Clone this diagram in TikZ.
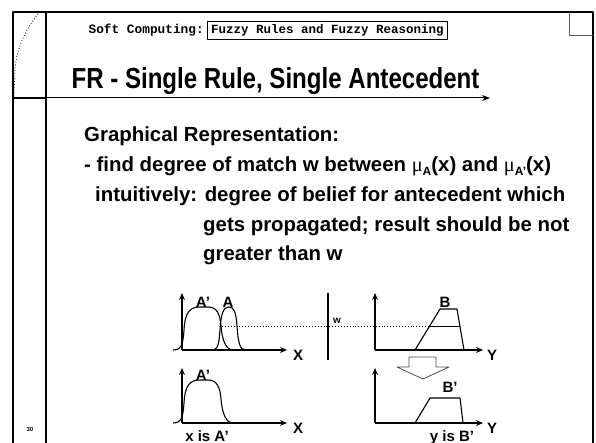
\documentclass[tikz,border=0pt]{standalone}
\usepackage{fontspec}
\setmainfont{Liberation Sans}
\setmonofont{Liberation Mono}
\newfontfamily\titlefont[FakeStretch=0.83]{Liberation Sans}
\newfontfamily\symfont{Liberation Serif}
\usetikzlibrary{arrows.meta}
\newcommand{\musub}[1]{{\symfont\mdseries μ}\raisebox{-4pt}{\fontsize{12}{12}\selectfont #1}}
\begin{document}
\begin{tikzpicture}[x=1pt,y=-1pt, line join=round,
  frame/.style={line width=2pt},
  curve/.style={line width=1.1pt},
  axis/.style={line width=1.1pt,-{Stealth[length=7pt,width=6pt]}},
  lbl/.style={font=\bfseries\fontsize{15}{15}\selectfont, inner sep=0pt},
  body/.style={font=\bfseries\fontsize{20.4}{24}\selectfont, anchor=base west, inner sep=0pt}]
\useasboundingbox (0,0) rectangle (596,443);
% frame
\draw[frame] (13,443) -- (13,12) -- (593,12) -- (593,443);
\draw[line width=1.2pt] (46,12) -- (46,443);
\draw[frame] (13,98) -- (46,98);
\coordinate (rs) at (46,98);
\coordinate (re) at (490,98);
\draw[line width=1pt,-{Stealth[length=8pt,width=6pt]}] (rs) -- (re);
\draw[line width=0.8pt, black!65] (569,12) -- (569,35) -- (593,35);
\draw[dotted, line width=0.8pt] (38,14) .. controls (25,30) and (16,50) .. (15,70) -- (14,95);
% header
\node[font=\ttfamily\bfseries\fontsize{12.8}{14}\selectfont, anchor=base east, inner sep=0pt] (sc) at (204,34) {Soft Computing:};
\node[draw, line width=0.8pt, font=\ttfamily\bfseries\fontsize{12.5}{14}\selectfont, anchor=west, minimum width=240pt, minimum height=18pt, inner sep=0pt] (fr) at (207,30) {Fuzzy Rules and Fuzzy Reasoning};
\node[font=\titlefont\bfseries\fontsize{29}{30}\selectfont, anchor=base, inner sep=0pt] (title) at (275.5,89) {FR - Single Rule, Single Antecedent};
% body
\node[body] (l1) at (84,142) {Graphical Representation:};
\node[body] (l2) at (84,172) {- find degree of match w between \musub{A}(x) and \musub{A'}(x)};
\node[body] (l3) at (95,202) {intuitively: degree of belief for antecedent which};
\node[body] (l4) at (203,232) {gets propagated; result should be not};
\node[body] (l5) at (203,261) {greater than w};
\node[font=\bfseries\fontsize{6}{6}\selectfont, inner sep=0pt] (pg) at (30,429) {30};
% upper left plot
\coordinate (o1) at (182,350);
\draw[axis] (o1) -- (182,293);
\draw[axis] (o1) -- (287,350);
\node[lbl] (x1) at (298,355) {X};
\draw[curve] (173,350) .. controls (181,350) and (183,345) .. (184,330) .. controls (185,312) and (190,307) .. (200,307) -- (208,307) .. controls (217,307) and (220,314) .. (221,326) .. controls (222,340) and (226,350) .. (233,350);
\draw[curve] (214,350) .. controls (219,348) and (219,340) .. (220,330) .. controls (221,312) and (224,307) .. (229,307) .. controls (234,307) and (236,312) .. (237,326) .. controls (238,342) and (240,350) .. (245,350);
\node[lbl] (la1) at (203,302) {A'};
\node[lbl] (la) at (228,302) {A};
% separator
\draw[line width=1.1pt] (328,293) -- (328,360);
\node[font=\bfseries\fontsize{10}{10}\selectfont, inner sep=0pt] (w) at (337,321) {w};
% upper right plot
\coordinate (o2) at (375,350);
\draw[axis] (o2) -- (375,293);
\draw[axis] (o2) -- (483,350);
\node[lbl] (y1) at (492,355) {Y};
\draw[curve] (415,350) -- (440,309) -- (457,309) -- (464,350);
\node[lbl] (lb) at (445,302) {B};
\coordinate (ws) at (222,326);
\coordinate (wl) at (429.6,326);
\coordinate (wr) at (459.9,326);
\draw[dotted, line width=0.9pt] (ws) -- (wl);
\draw[line width=0.9pt] (wl) -- (wr);
% hollow arrow
\draw[line width=0.8pt, black!70] (409,357) -- (436,357) -- (436,367) -- (449,367) -- (423,379) -- (397,367) -- (409,367) -- cycle;
% lower left plot
\coordinate (o3) at (182,423);
\draw[axis] (o3) -- (182,368);
\draw[axis] (o3) -- (287,423);
\node[lbl] (x2) at (298,428) {X};
\begin{scope}[yshift=-73pt]
\draw[curve] (173,350) .. controls (181,350) and (183,345) .. (184,330) .. controls (185,312) and (190,307) .. (200,307) -- (208,307) .. controls (217,307) and (220,314) .. (221,326) .. controls (222,340) and (226,350) .. (233,350);
\end{scope}
\node[lbl] (la2) at (203,375) {A'};
\node[lbl, anchor=base] (xa) at (207,441) {x is A'};
% lower right plot
\coordinate (o4) at (375,423);
\draw[axis] (o4) -- (375,368);
\draw[axis] (o4) -- (483,423);
\node[lbl] (y2) at (492,428) {Y};
\draw[curve] (415,423) -- (430,398) -- (460,398) -- (463,423);
\node[lbl] (lb2) at (450,387) {B'};
\node[lbl, anchor=base] (yb) at (452,441) {y is B'};
\end{tikzpicture}
\end{document}
